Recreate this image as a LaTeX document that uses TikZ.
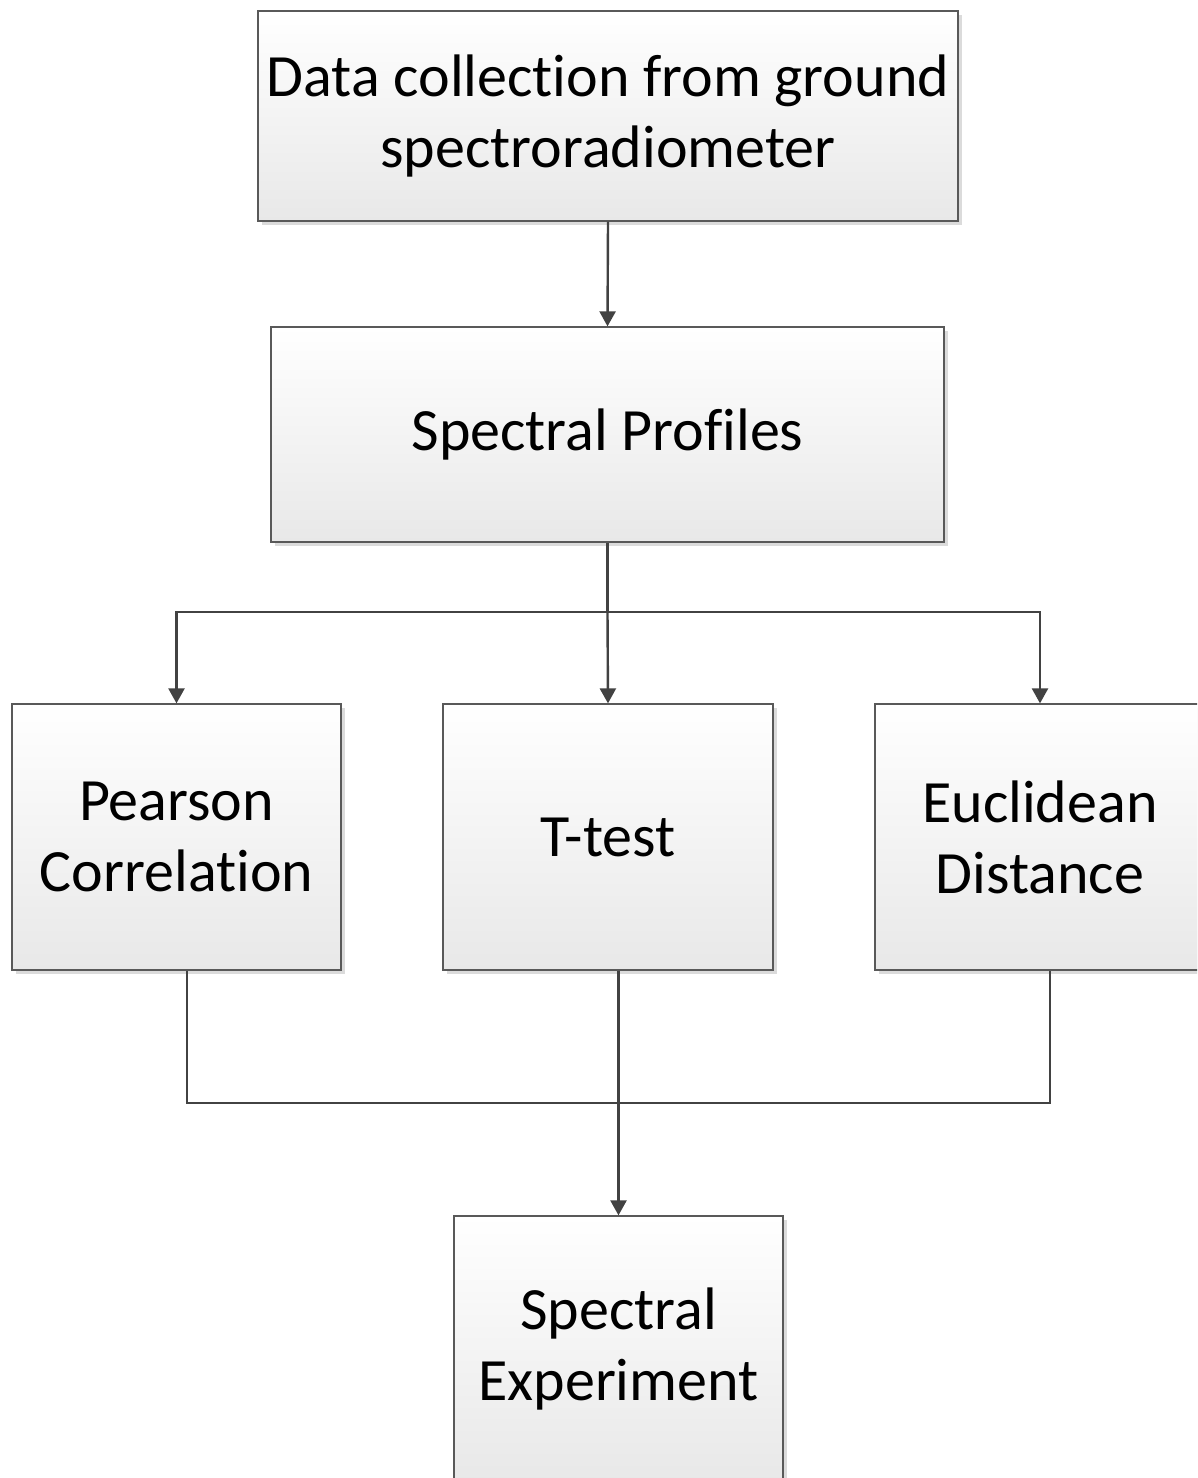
\documentclass[tikz,border=0pt]{standalone}
\usepackage{fontspec}
\setmainfont[Ligatures={NoCommon}]{Carlito}
\usetikzlibrary{arrows.meta,shadows}

\tikzset{
  flowbox/.style={
    draw=black!65, line width=1.3pt,
    top color=white, bottom color=black!9,
    drop shadow={shadow xshift=4pt, shadow yshift=-4pt, fill=black!14, opacity=1},
    align=center, inner sep=0pt,
    font=\fontsize{60}{71}\selectfont
  },
  link/.style={draw=black!74, line width=2.4pt},
  arrowlink/.style={link, -{Triangle[length=15pt,width=16pt]}}
}

\begin{document}
\begin{tikzpicture}[x=1pt,y=-1pt]
  \clip (0,0) rectangle (1197,1478);
  \fill[white] (0,0) rectangle (1197,1478);

  % process boxes
  \node[flowbox, minimum width=700pt, minimum height=210pt] (data) at (608,116)
    {Data collection from ground\\spectroradiometer};
  \node[flowbox, minimum width=673pt, minimum height=215pt] (prof) at (607.5,434.5)
    {Spectral Profiles};
  \node[flowbox, minimum width=329pt, minimum height=266pt] (pear) at (176.5,837)
    {Pearson\\Correlation};
  \node[flowbox, minimum width=330pt, minimum height=266pt] (ttest) at (608,837)
    {T-test};
  \node[flowbox, minimum width=330pt, minimum height=266pt] (eucl) at (1040,837)
    {Euclidean\\Distance};
  \node[flowbox, minimum width=329pt, minimum height=266pt] (expt) at (618.5,1349)
    {Spectral\\Experiment};

  % fan-out from the profiles
  \coordinate (split) at (607.5,612);
  \coordinate (merge) at (618.5,1103);

  \draw[arrowlink] (data.south) -- (prof.north);
  \draw[link] (prof.south) -- (split);
  \draw[arrowlink] (split) -| (pear.north);
  \draw[arrowlink] (split) -| (eucl.north);
  \draw[arrowlink] (split) -- (ttest.north);

  % merge into the experiment
  \draw[link] ([xshift=10.5pt]pear.south) |- (merge);
  \draw[link] ([xshift=10pt]eucl.south) |- (merge);
  \draw[arrowlink] (expt.north |- ttest.south) -- (expt.north);
\end{tikzpicture}
\end{document}
